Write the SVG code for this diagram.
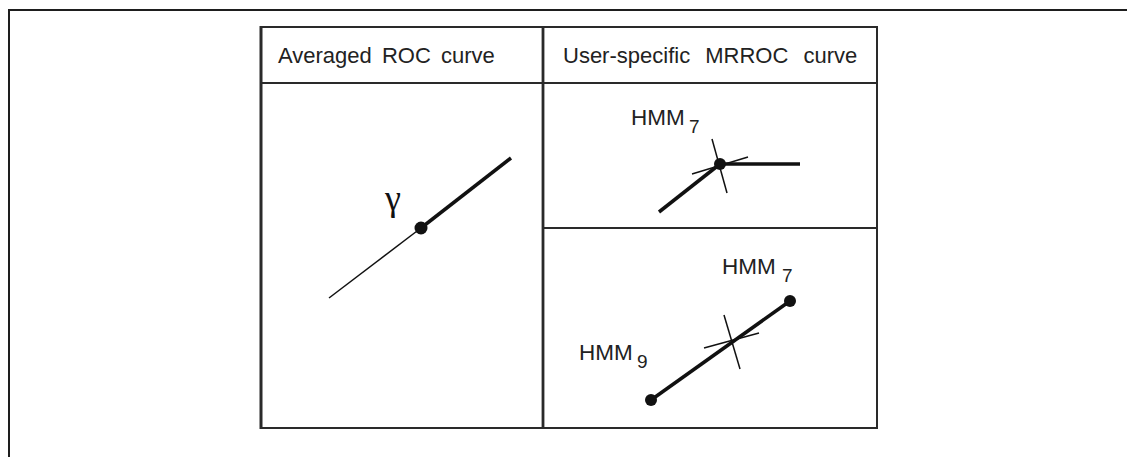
<svg xmlns="http://www.w3.org/2000/svg" width="1127" height="457" viewBox="0 0 1127 457">
<style>
.frame{stroke:#1e1e1e;fill:none;stroke-width:2}
.grid{stroke:#2a2a2a;fill:none}
.t{font-family:"Liberation Sans",Arial,sans-serif;font-size:22px;fill:#222}
.h{font-size:22.5px}
.sub{font-size:19px}
.thin{stroke:#111;stroke-width:1.5;fill:none}
.thick{stroke:#111;stroke-width:3.5;fill:none;stroke-linecap:butt}
.dot{fill:#111}
</style>
<rect width="1127" height="457" fill="#fff"/>
<g id="outer-frame">
<path class="frame" d="M9 457 V10 H1127"/>
</g>
<g id="table">
<line class="grid" x1="261" y1="27" x2="877" y2="27" stroke-width="2"/>
<line class="grid" x1="261" y1="428" x2="877" y2="428" stroke-width="2.2"/>
<line class="grid" x1="261" y1="83" x2="877" y2="83" stroke-width="2"/>
<line class="grid" x1="543" y1="228" x2="877" y2="228" stroke-width="2.2"/>
<line class="grid" x1="261" y1="26" x2="261" y2="429" stroke-width="3"/>
<line class="grid" x1="543" y1="26" x2="543" y2="429" stroke-width="2.8"/>
<line class="grid" x1="877" y1="26" x2="877" y2="429" stroke-width="2"/>
</g>
<g id="header-left">
<text class="t" x="278" y="63" word-spacing="4">Averaged ROC curve</text>
</g>
<g id="header-right">
<text class="t" x="563" y="63" word-spacing="9">User-specific MRROC curve</text>
</g>
<g id="averaged-roc">
<line class="thin" x1="329" y1="298" x2="421" y2="228"/>
<line class="thick" x1="421" y1="228" x2="511" y2="158" stroke-width="3"/>
<circle class="dot" cx="421" cy="228" r="6.5"/>
<text x="385" y="210" style="font-family:'Liberation Serif',serif;font-size:36px;fill:#111">γ</text>
</g>
<g id="mrroc-top">
<text class="t h" x="631" y="125">HMM<tspan class="sub" x="689" y="133">7</tspan></text>
<line class="thick" x1="659" y1="212" x2="720" y2="164" stroke-width="3"/>
<line class="thick" x1="720" y1="164" x2="800" y2="164" stroke-width="4"/>
<line class="thin" x1="712" y1="139" x2="727" y2="193"/>
<line class="thin" x1="692" y1="174" x2="748" y2="157"/>
<circle class="dot" cx="720" cy="164" r="6"/>
</g>
<g id="mrroc-bottom">
<text class="t h" x="722" y="274">HMM<tspan class="sub" x="782" y="282">7</tspan></text>
<text class="t h" x="579" y="360">HMM<tspan class="sub" x="637" y="368">9</tspan></text>
<line class="thick" x1="651" y1="400" x2="790" y2="301" stroke-width="4"/>
<line class="thin" x1="724" y1="315" x2="740" y2="369"/>
<line class="thin" x1="704" y1="348" x2="759" y2="333"/>
<circle class="dot" cx="790" cy="301" r="6"/>
<circle class="dot" cx="651" cy="400" r="6"/>
</g>
</svg>
